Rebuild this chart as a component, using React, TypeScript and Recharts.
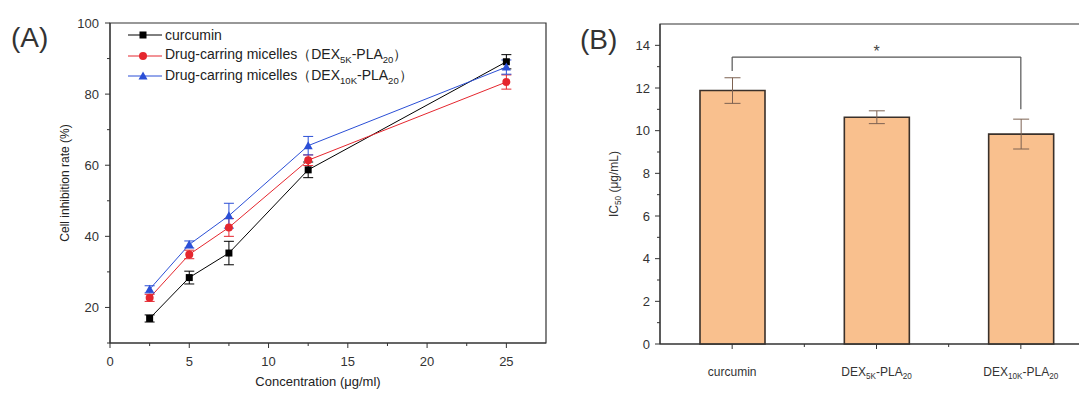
import React from 'react';
import {
  LineChart,
  Line,
  BarChart,
  Bar,
  XAxis,
  YAxis,
  ErrorBar,
  Legend,
  Label,
  ReferenceArea,
  ReferenceLine
} from 'recharts';

// (A) cell inhibition vs concentration
const concentrations = [2.5, 5, 7.5, 12.5, 25];
const curcuminRate = [16.9, 28.4, 35.3, 58.7, 89.1];
const curcuminErr = [1.0, 1.8, 3.3, 2.2, 2.0];
const dex5kRate = [22.7, 34.9, 42.5, 61.4, 83.4];
const dex5kErr = [1.0, 1.2, 2.5, 1.5, 2.0];
const dex10kRate = [25.1, 37.7, 45.8, 65.5, 87.6];
const dex10kErr = [1.0, 1.0, 3.5, 2.6, 2.0];

const xTicksA = [0, 2.5, 5, 7.5, 10, 12.5, 15, 17.5, 20, 22.5, 25];
const yTicksA = [10, 20, 30, 40, 50, 60, 70, 80, 90, 100];

const seriesNames = {
  curcumin: 'curcumin',
  dex5k: 'Drug-carring micelles（DEX5K-PLA20）',
  dex10k: 'Drug-carring micelles（DEX10K-PLA20）'
};
const legendOrder = ['curcumin', 'dex5k', 'dex10k'];

// (B) IC50 per formulation
const groups = ['curcumin', 'DEX5K-PLA20', 'DEX10K-PLA20'];
const ic50 = [11.88, 10.63, 9.84];
const ic50Err = [0.6, 0.3, 0.7];
const yTicksB = [0, 1, 2, 3, 4, 5, 6, 7, 8, 9, 10, 11, 12, 13, 14];
const sigLevel = 13.45;
const sigLegEnds = [12.8, 11.0];

const lineData = concentrations.map((c, i) => ({
  conc: c,
  curcumin: curcuminRate[i],
  curcuminErr: curcuminErr[i],
  dex5k: dex5kRate[i],
  dex5kErr: dex5kErr[i],
  dex10k: dex10kRate[i],
  dex10kErr: dex10kErr[i]
}));

const barData = groups.map((g, i) => ({ group: g, ic50: ic50[i], err: ic50Err[i] }));

const ink = '#333';
const RED = '#e5262e';
const BLUE = '#2b4fd6';

// digit runs (5K, 20, 50) are drawn as subscripts
const svgSub = (label: string, size: number) => {
  const parts = label.split(/(\d+K?)/);
  const out: React.ReactNode[] = [];
  let lowered = false;
  parts.forEach((p, i) => {
    if (p === '') return;
    const isSub = i % 2 === 1;
    let dy = 0;
    if (isSub && !lowered) { dy = 3; lowered = true; }
    if (!isSub && lowered) { dy = -3; lowered = false; }
    out.push(
      <tspan key={i} dy={dy} fontSize={isSub ? size * 0.68 : size}>{p}</tspan>
    );
  });
  return out;
};

const htmlSub = (label: string) =>
  label.split(/(\d+K?)/).map((p, i) =>
    i % 2 === 1 ? <sub key={i} style={{ fontSize: '0.68em' }}>{p}</sub> : <span key={i}>{p}</span>
  );

const Marker = ({ kind, cx, cy, color }: any) => {
  if (cx == null || cy == null) return null;
  if (kind === 'square') return <rect x={cx - 3.5} y={cy - 3.5} width={7} height={7} fill={color} />;
  if (kind === 'circle') return <circle cx={cx} cy={cy} r={4} fill={color} />;
  return <polygon points={`${cx},${cy - 4.5} ${cx - 4.5},${cy + 3.5} ${cx + 4.5},${cy + 3.5}`} fill={color} />;
};

const markerKind: Record<string, string> = { curcumin: 'square', dex5k: 'circle', dex10k: 'triangle' };

const renderLegend = (props: any) => {
  const { payload = [] } = props;
  const sorted = [...payload].sort(
    (a: any, b: any) => legendOrder.indexOf(a.dataKey) - legendOrder.indexOf(b.dataKey)
  );
  return (
    <div style={{ fontSize: 14, color: '#222' }}>
      {sorted.map((entry: any) => (
        <div key={entry.dataKey} style={{ display: 'flex', alignItems: 'center', height: 20.5, whiteSpace: 'nowrap' }}>
          <svg width={37} height={12} style={{ marginRight: 0 }}>
            <line x1={0} y1={6} x2={34} y2={6} stroke={entry.color} strokeWidth={1} />
            <Marker kind={markerKind[entry.dataKey]} cx={15} cy={6} color={entry.color} />
          </svg>
          <span>{htmlSub(entry.value)}</span>
        </div>
      ))}
    </div>
  );
};

const renderXTickA = (props: any) => {
  const { x, y, payload } = props;
  const major = payload.value % 5 === 0;
  return (
    <g>
      <line x1={x} x2={x} y1={y} y2={y + (major ? 5 : 3)} stroke={ink} />
      {major && (
        <text x={x} y={y + 23} textAnchor="middle" fontSize={13} fill="#333">{payload.value}</text>
      )}
    </g>
  );
};

const renderYTickA = (props: any) => {
  const { x, y, payload } = props;
  const major = payload.value % 20 === 0;
  return (
    <g>
      <line x1={x - (major ? 5 : 3)} x2={x} y1={y} y2={y} stroke={ink} />
      {major && (
        <text x={x - 11} y={y} dy="0.35em" textAnchor="end" fontSize={13} fill="#333">{payload.value}</text>
      )}
    </g>
  );
};

const renderYTickB = (props: any) => {
  const { x, y, payload } = props;
  const major = payload.value % 2 === 0;
  return (
    <g>
      <line x1={x - (major ? 5 : 3)} x2={x} y1={y} y2={y} stroke={ink} />
      {major && (
        <text x={x - 10} y={y} dy="0.35em" textAnchor="end" fontSize={13} fill="#333">{payload.value}</text>
      )}
    </g>
  );
};

const renderXTickB = (props: any) => {
  const { x, y, payload, index, visibleTicksCount } = props;
  const half = payload.offset || 0;
  const last = index === (visibleTicksCount ?? groups.length) - 1;
  return (
    <g>
      <line x1={x} x2={x} y1={y} y2={y + 5} stroke={ink} />
      {!last && half > 0 && <line x1={x + half} x2={x + half} y1={y} y2={y + 3} stroke={ink} />}
      <text x={x} y={y + 32} textAnchor="middle" fontSize={12} fill="#333">
        {svgSub(payload.value, 12)}
      </text>
    </g>
  );
};

const IcTitle = (props: any) => {
  const vb = props.viewBox || { x: 60, y: 24, width: 40, height: 350 };
  const cx = vb.x - 2;
  const cy = vb.y + vb.height / 2;
  return (
    <text x={cx} y={cy} transform={`rotate(-90, ${cx}, ${cy})`} textAnchor="middle" dy="0.35em" fill="#333">
      {svgSub('IC50 (μg/mL)', 12)}
    </text>
  );
};

const App: React.FC = () => {
  return (
    <div
      style={{
        position: 'relative',
        width: 1087,
        height: 419,
        margin: -8,
        overflow: 'hidden',
        background: '#fff',
        fontFamily: '"Liberation Sans", Arial, sans-serif'
      }}
    >
      <div style={{ position: 'absolute', left: 0, top: 0 }}>
        <LineChart width={560} height={419} data={lineData} margin={{ top: 23, right: 14, bottom: 46, left: 70 }}>
          <ReferenceArea y1={10} y2={100} fill="none" stroke={ink} strokeWidth={1.2} ifOverflow="visible" />
          <XAxis
            type="number"
            dataKey="conc"
            domain={[0, 27.5]}
            ticks={xTicksA}
            interval={0}
            tick={renderXTickA}
            tickSize={0}
            tickMargin={0}
            height={30}
            stroke={ink}
          >
            <Label value="Concentration (μg/ml)" position="bottom" offset={4} dx={-10} style={{ fontSize: 13, fill: '#222' }} />
          </XAxis>
          <YAxis
            type="number"
            domain={[10, 100]}
            ticks={yTicksA}
            interval={0}
            tick={renderYTickA}
            tickSize={0}
            tickMargin={0}
            width={40}
            stroke={ink}
          >
            <Label
              value="Cell inhibition rate (%)"
              angle={-90}
              position="insideLeft"
              offset={-5}
              style={{ fontSize: 12, fill: '#222', textAnchor: 'middle' }}
            />
          </YAxis>
          <Legend
            layout="horizontal"
            verticalAlign="middle"
            align="center"
            content={renderLegend}
            wrapperStyle={{ left: 128, top: 25, width: 330, height: 62 }}
          />
          <Line
            dataKey="curcumin"
            name={seriesNames.curcumin}
            stroke="#000"
            strokeWidth={1}
            dot={(p: any) => <Marker key={`c${p.index}`} kind="square" cx={p.cx} cy={p.cy} color="#000" />}
            activeDot={false}
            isAnimationActive={false}
          >
            <ErrorBar dataKey="curcuminErr" width={5} stroke="#000" strokeWidth={1} />
          </Line>
          <Line
            dataKey="dex5k"
            name={seriesNames.dex5k}
            stroke={RED}
            strokeWidth={1}
            dot={(p: any) => <Marker key={`r${p.index}`} kind="circle" cx={p.cx} cy={p.cy} color={RED} />}
            activeDot={false}
            isAnimationActive={false}
          >
            <ErrorBar dataKey="dex5kErr" width={5} stroke={RED} strokeWidth={1} />
          </Line>
          <Line
            dataKey="dex10k"
            name={seriesNames.dex10k}
            stroke={BLUE}
            strokeWidth={1}
            dot={(p: any) => <Marker key={`b${p.index}`} kind="triangle" cx={p.cx} cy={p.cy} color={BLUE} />}
            activeDot={false}
            isAnimationActive={false}
          >
            <ErrorBar dataKey="dex10kErr" width={5} stroke={BLUE} strokeWidth={1} />
          </Line>
        </LineChart>
      </div>

      <div style={{ position: 'absolute', left: 560, top: 0 }}>
        <BarChart width={540} height={419} data={barData} margin={{ top: 24, right: 7, bottom: 45, left: 60 }}>
          <ReferenceArea y1={0} y2={15} fill="none" stroke={ink} strokeWidth={1.2} ifOverflow="visible" />
          <XAxis
            dataKey="group"
            interval={0}
            tick={renderXTickB}
            tickSize={0}
            tickMargin={0}
            height={30}
            stroke={ink}
          />
          <YAxis
            type="number"
            domain={[0, 15]}
            ticks={yTicksB}
            interval={0}
            tick={renderYTickB}
            tickSize={0}
            tickMargin={0}
            width={40}
            stroke={ink}
          >
            <Label content={IcTitle} />
          </YAxis>
          <Bar
            dataKey="ic50"
            barSize={65}
            fill="#F9C08E"
            stroke="#3a302a"
            strokeWidth={1.6}
            isAnimationActive={false}
          >
            <ErrorBar dataKey="err" width={8} stroke="#7d6252" strokeWidth={1} />
          </Bar>
          <ReferenceLine
            segment={[{ x: groups[0], y: sigLevel }, { x: groups[2], y: sigLevel }]}
            stroke="#555"
            strokeWidth={1.2}
            label={{ value: '*', position: 'top', offset: 0, fontSize: 16, fill: '#444' }}
          />
          <ReferenceLine
            segment={[{ x: groups[0], y: sigLevel }, { x: groups[0], y: sigLegEnds[0] }]}
            stroke="#555"
            strokeWidth={1.2}
          />
          <ReferenceLine
            segment={[{ x: groups[2], y: sigLevel }, { x: groups[2], y: sigLegEnds[1] }]}
            stroke="#555"
            strokeWidth={1.2}
          />
        </BarChart>
      </div>

      <svg width={1087} height={60} style={{ position: 'absolute', left: 0, top: 0, pointerEvents: 'none' }}>
        <text x={11} y={47} fontSize={28} fill="#333">(A)</text>
        <text x={580} y={49} fontSize={28} fill="#333">(B)</text>
      </svg>
    </div>
  );
};

export default App;
